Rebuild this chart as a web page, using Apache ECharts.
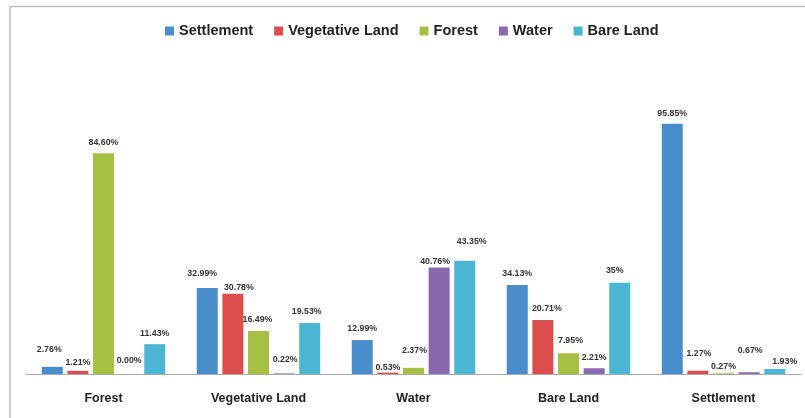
<!DOCTYPE html>
<html>
<head>
<meta charset="utf-8">
<script src="https://cdn.jsdelivr.net/npm/echarts@6/dist/echarts.min.js"></script>
<style>html,body{margin:0;padding:0;background:#fff}#c{width:805px;height:418px}</style>
</head>
<body>
<div id="c"></div>
<script>
var categories = ["Forest", "Vegetative Land", "Water", "Bare Land", "Settlement"];
var seriesNames = ["Settlement", "Vegetative Land", "Forest", "Water", "Bare Land"];
var settlement = [2.76, 32.99, 12.99, 34.13, 95.85];
var vegetative = [1.21, 30.78, 0.53, 20.71, 1.27];
var forest = [84.60, 16.49, 2.37, 7.95, 0.27];
var water = [0.00, 0.22, 40.76, 2.21, 0.67];
var bareLand = [11.43, 19.53, 43.35, 35, 1.93];
var settlementLabels = ["2.76%", "32.99%", "12.99%", "34.13%", "95.85%"];
var vegetativeLabels = ["1.21%", "30.78%", "0.53%", "20.71%", "1.27%"];
var forestLabels = ["84.60%", "16.49%", "2.37%", "7.95%", "0.27%"];
var waterLabels = ["0.00%", "0.22%", "40.76%", "2.21%", "0.67%"];
var bareLandLabels = ["11.43%", "19.53%", "43.35%", "35%", "1.93%"];
var colors = ["#4a8dcc", "#dc4d4d", "#a6c044", "#8a68b0", "#4ab6d3"];

// label nudges [dx, dy] (layout only), one row per series
var labelNudges = [
  [[-3, -7], [-5, -4], [0, -1], [0, -1], [0, 0]],
  [[0, 2], [6, 4], [0, 5], [4, -1], [1, -7]],
  [[0, 0], [-1, -1], [1, -7], [2, -2], [0, 4]],
  [[0, -3], [1, -3], [-4, 4], [0, 0], [1, -11]],
  [[0, 0], [-3, -1], [7, -9], [-5, -2], [10, 3]]
];

var allValues = [settlement, vegetative, forest, water, bareLand];
var allLabels = [settlementLabels, vegetativeLabels, forestLabels, waterLabels, bareLandLabels];

var chart = echarts.init(document.getElementById('c'), null, {renderer: 'canvas'});
var series = seriesNames.map(function (name, i) {
  return {
    name: name,
    type: 'bar',
    barWidth: 21,
    barGap: '22%',
    itemStyle: {color: colors[i]},
    label: {
      show: true,
      position: 'top',
      distance: 6,
      fontFamily: 'Liberation Sans',
      fontWeight: 'bold',
      fontSize: 8.8,
      color: '#333',
      formatter: function (p) { return allLabels[i][p.dataIndex]; }
    },
    data: allValues[i].map(function (v, j) {
      return {value: v, label: {offset: labelNudges[i][j]}};
    })
  };
});

chart.setOption({
  animation: false,
  backgroundColor: '#fff',
  graphic: [{
    type: 'rect',
    shape: {x: 10, y: 6.5, width: 820, height: 440},
    style: {fill: 'none', stroke: '#bdbdbd', lineWidth: 1.5},
    silent: true
  }],
  legend: {
    data: seriesNames,
    left: 160,
    top: 18.5,
    itemWidth: 9,
    itemHeight: 9,
    itemGap: 21,
    icon: 'rect',
    textStyle: {fontFamily: 'Liberation Sans', fontWeight: 'bold', fontSize: 14.5, color: '#222'}
  },
  grid: {left: 26, right: 4, top: 113, bottom: 44, containLabel: false},
  xAxis: {
    type: 'category',
    data: categories,
    axisLine: {lineStyle: {color: '#aaaaaa', width: 1}},
    axisTick: {show: false},
    axisLabel: {margin: 18, fontFamily: 'Liberation Sans', fontWeight: 'bold', fontSize: 12.5, color: '#222'}
  },
  yAxis: {
    type: 'value',
    min: 0,
    max: 100,
    show: false,
    splitLine: {show: false}
  },
  series: series
});
</script>
</body>
</html>
